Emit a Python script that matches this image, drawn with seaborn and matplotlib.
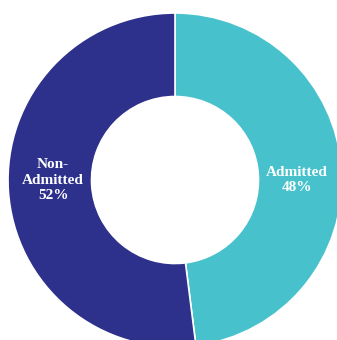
import numpy as np
import matplotlib
matplotlib.use("Agg")
import matplotlib.pyplot as plt
import seaborn as sns

# Admission status breakdown
categories = ["Admitted", "Non-\nAdmitted"]
shares = [48, 52]
colors = ["#47C1CB", "#2E318C"]

sns.set_theme(style="white")
plt.rcParams["font.family"] = ["Liberation Serif", "DejaVu Serif"]

fig = plt.figure(figsize=(3.37, 3.40), dpi=100)
ax = fig.add_axes([0, 0, 1, 1])

wedges, _ = ax.pie(
    shares,
    colors=colors,
    startangle=90,
    counterclock=False,
    radius=1.0,
    wedgeprops=dict(width=0.5, edgecolor="white", linewidth=1.2),
)

# Labels sit in the ring, on the side of each wedge's middle
start = 90.0
for cat, val in zip(categories, shares):
    sweep = 360.0 * val / sum(shares)
    mid = np.deg2rad(start - sweep / 2)
    side = np.sign(np.cos(mid))
    ax.text(side * 0.73, 0.0, f"{cat}\n{val}%", ha="center", va="center",
            color="white", fontsize=11, fontweight="bold", linespacing=1.25)
    start -= sweep

ax.set_xlim(-1.048, 0.970)
ax.set_ylim(-0.958, 1.078)
ax.set_aspect("auto")
ax.axis("off")

fig.savefig("out.png", dpi=100)
